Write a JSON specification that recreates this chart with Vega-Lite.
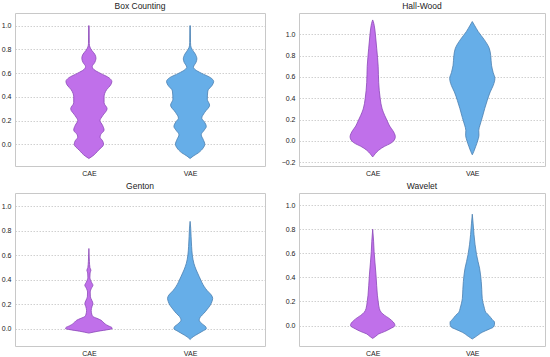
{
  "$schema": "https://vega.github.io/schema/vega-lite/v6.json",
  "padding": {"left": 0, "top": 1, "right": 4, "bottom": 0},
  "background": "white",
  "columns": 2,
  "spacing": {"row": 4, "column": 14},
  "config": {
    "font": "Liberation Sans",
    "view": {"stroke": "#c8c8c8", "strokeWidth": 1},
    "title": {"fontSize": 8.5, "fontWeight": "normal", "color": "#222", "offset": 3, "font": "Liberation Sans"},
    "axis": {"labelFontSize": 7, "labelColor": "#222", "domain": false, "ticks": false, "labelPadding": 4, "title": null, "gridColor": "#c4c4c4", "gridDash": [1.5, 1.5], "gridWidth": 0.8},
    "axisX": {"labelPadding": 3},
    "area": {"strokeWidth": 0.8, "fillOpacity": 1}
  },
  "datasets": {
    "violins": [
      {"panel": "Box Counting", "group": "CAE", "v": -0.12, "d": 0},
      {"panel": "Box Counting", "group": "CAE", "v": -0.10, "d": 0.035},
      {"panel": "Box Counting", "group": "CAE", "v": -0.05, "d": 0.095},
      {"panel": "Box Counting", "group": "CAE", "v": 0.0, "d": 0.145},
      {"panel": "Box Counting", "group": "CAE", "v": 0.03, "d": 0.135},
      {"panel": "Box Counting", "group": "CAE", "v": 0.06, "d": 0.11},
      {"panel": "Box Counting", "group": "CAE", "v": 0.08, "d": 0.115},
      {"panel": "Box Counting", "group": "CAE", "v": 0.12, "d": 0.15},
      {"panel": "Box Counting", "group": "CAE", "v": 0.16, "d": 0.135},
      {"panel": "Box Counting", "group": "CAE", "v": 0.20, "d": 0.11},
      {"panel": "Box Counting", "group": "CAE", "v": 0.24, "d": 0.135},
      {"panel": "Box Counting", "group": "CAE", "v": 0.30, "d": 0.18},
      {"panel": "Box Counting", "group": "CAE", "v": 0.35, "d": 0.15},
      {"panel": "Box Counting", "group": "CAE", "v": 0.40, "d": 0.15},
      {"panel": "Box Counting", "group": "CAE", "v": 0.46, "d": 0.175},
      {"panel": "Box Counting", "group": "CAE", "v": 0.50, "d": 0.215},
      {"panel": "Box Counting", "group": "CAE", "v": 0.53, "d": 0.227},
      {"panel": "Box Counting", "group": "CAE", "v": 0.56, "d": 0.2},
      {"panel": "Box Counting", "group": "CAE", "v": 0.60, "d": 0.11},
      {"panel": "Box Counting", "group": "CAE", "v": 0.63, "d": 0.05},
      {"panel": "Box Counting", "group": "CAE", "v": 0.655, "d": 0.033},
      {"panel": "Box Counting", "group": "CAE", "v": 0.69, "d": 0.058},
      {"panel": "Box Counting", "group": "CAE", "v": 0.725, "d": 0.07},
      {"panel": "Box Counting", "group": "CAE", "v": 0.76, "d": 0.058},
      {"panel": "Box Counting", "group": "CAE", "v": 0.79, "d": 0.03},
      {"panel": "Box Counting", "group": "CAE", "v": 0.82, "d": 0.01},
      {"panel": "Box Counting", "group": "CAE", "v": 0.85, "d": 0.004},
      {"panel": "Box Counting", "group": "CAE", "v": 1.0, "d": 0.0025},
      {"panel": "Box Counting", "group": "VAE", "v": -0.12, "d": 0},
      {"panel": "Box Counting", "group": "VAE", "v": -0.10, "d": 0.03},
      {"panel": "Box Counting", "group": "VAE", "v": -0.07, "d": 0.085},
      {"panel": "Box Counting", "group": "VAE", "v": -0.03, "d": 0.13},
      {"panel": "Box Counting", "group": "VAE", "v": 0.0, "d": 0.145},
      {"panel": "Box Counting", "group": "VAE", "v": 0.04, "d": 0.13},
      {"panel": "Box Counting", "group": "VAE", "v": 0.08, "d": 0.11},
      {"panel": "Box Counting", "group": "VAE", "v": 0.12, "d": 0.14},
      {"panel": "Box Counting", "group": "VAE", "v": 0.15, "d": 0.16},
      {"panel": "Box Counting", "group": "VAE", "v": 0.19, "d": 0.14},
      {"panel": "Box Counting", "group": "VAE", "v": 0.22, "d": 0.115},
      {"panel": "Box Counting", "group": "VAE", "v": 0.27, "d": 0.145},
      {"panel": "Box Counting", "group": "VAE", "v": 0.33, "d": 0.193},
      {"panel": "Box Counting", "group": "VAE", "v": 0.38, "d": 0.17},
      {"panel": "Box Counting", "group": "VAE", "v": 0.45, "d": 0.175},
      {"panel": "Box Counting", "group": "VAE", "v": 0.50, "d": 0.22},
      {"panel": "Box Counting", "group": "VAE", "v": 0.53, "d": 0.233},
      {"panel": "Box Counting", "group": "VAE", "v": 0.56, "d": 0.205},
      {"panel": "Box Counting", "group": "VAE", "v": 0.60, "d": 0.11},
      {"panel": "Box Counting", "group": "VAE", "v": 0.63, "d": 0.05},
      {"panel": "Box Counting", "group": "VAE", "v": 0.65, "d": 0.033},
      {"panel": "Box Counting", "group": "VAE", "v": 0.69, "d": 0.058},
      {"panel": "Box Counting", "group": "VAE", "v": 0.72, "d": 0.067},
      {"panel": "Box Counting", "group": "VAE", "v": 0.76, "d": 0.052},
      {"panel": "Box Counting", "group": "VAE", "v": 0.80, "d": 0.02},
      {"panel": "Box Counting", "group": "VAE", "v": 0.83, "d": 0.006},
      {"panel": "Box Counting", "group": "VAE", "v": 0.86, "d": 0.004},
      {"panel": "Box Counting", "group": "VAE", "v": 1.0, "d": 0.0025},
      {"panel": "Hall-Wood", "group": "CAE", "v": -0.15, "d": 0},
      {"panel": "Hall-Wood", "group": "CAE", "v": -0.12, "d": 0.025},
      {"panel": "Hall-Wood", "group": "CAE", "v": -0.087, "d": 0.06},
      {"panel": "Hall-Wood", "group": "CAE", "v": -0.05, "d": 0.12},
      {"panel": "Hall-Wood", "group": "CAE", "v": -0.025, "d": 0.175},
      {"panel": "Hall-Wood", "group": "CAE", "v": 0.0, "d": 0.21},
      {"panel": "Hall-Wood", "group": "CAE", "v": 0.04, "d": 0.227},
      {"panel": "Hall-Wood", "group": "CAE", "v": 0.07, "d": 0.218},
      {"panel": "Hall-Wood", "group": "CAE", "v": 0.10, "d": 0.20},
      {"panel": "Hall-Wood", "group": "CAE", "v": 0.14, "d": 0.17},
      {"panel": "Hall-Wood", "group": "CAE", "v": 0.18, "d": 0.15},
      {"panel": "Hall-Wood", "group": "CAE", "v": 0.24, "d": 0.12},
      {"panel": "Hall-Wood", "group": "CAE", "v": 0.30, "d": 0.095},
      {"panel": "Hall-Wood", "group": "CAE", "v": 0.40, "d": 0.075},
      {"panel": "Hall-Wood", "group": "CAE", "v": 0.55, "d": 0.06},
      {"panel": "Hall-Wood", "group": "CAE", "v": 0.70, "d": 0.055},
      {"panel": "Hall-Wood", "group": "CAE", "v": 0.87, "d": 0.04},
      {"panel": "Hall-Wood", "group": "CAE", "v": 1.0, "d": 0.027},
      {"panel": "Hall-Wood", "group": "CAE", "v": 1.08, "d": 0.016},
      {"panel": "Hall-Wood", "group": "CAE", "v": 1.12, "d": 0.006},
      {"panel": "Hall-Wood", "group": "CAE", "v": 1.135, "d": 0},
      {"panel": "Hall-Wood", "group": "VAE", "v": -0.13, "d": 0},
      {"panel": "Hall-Wood", "group": "VAE", "v": -0.10, "d": 0.015},
      {"panel": "Hall-Wood", "group": "VAE", "v": -0.05, "d": 0.035},
      {"panel": "Hall-Wood", "group": "VAE", "v": -0.025, "d": 0.045},
      {"panel": "Hall-Wood", "group": "VAE", "v": 0.02, "d": 0.06},
      {"panel": "Hall-Wood", "group": "VAE", "v": 0.054, "d": 0.067},
      {"panel": "Hall-Wood", "group": "VAE", "v": 0.10, "d": 0.065},
      {"panel": "Hall-Wood", "group": "VAE", "v": 0.148, "d": 0.077},
      {"panel": "Hall-Wood", "group": "VAE", "v": 0.22, "d": 0.10},
      {"panel": "Hall-Wood", "group": "VAE", "v": 0.305, "d": 0.125},
      {"panel": "Hall-Wood", "group": "VAE", "v": 0.38, "d": 0.15},
      {"panel": "Hall-Wood", "group": "VAE", "v": 0.46, "d": 0.18},
      {"panel": "Hall-Wood", "group": "VAE", "v": 0.52, "d": 0.21},
      {"panel": "Hall-Wood", "group": "VAE", "v": 0.587, "d": 0.227},
      {"panel": "Hall-Wood", "group": "VAE", "v": 0.64, "d": 0.21},
      {"panel": "Hall-Wood", "group": "VAE", "v": 0.71, "d": 0.193},
      {"panel": "Hall-Wood", "group": "VAE", "v": 0.80, "d": 0.185},
      {"panel": "Hall-Wood", "group": "VAE", "v": 0.87, "d": 0.17},
      {"panel": "Hall-Wood", "group": "VAE", "v": 0.95, "d": 0.12},
      {"panel": "Hall-Wood", "group": "VAE", "v": 1.025, "d": 0.06},
      {"panel": "Hall-Wood", "group": "VAE", "v": 1.08, "d": 0.025},
      {"panel": "Hall-Wood", "group": "VAE", "v": 1.12, "d": 0},
      {"panel": "Genton", "group": "CAE", "v": -0.035, "d": 0},
      {"panel": "Genton", "group": "CAE", "v": -0.02, "d": 0.09},
      {"panel": "Genton", "group": "CAE", "v": -0.005, "d": 0.20},
      {"panel": "Genton", "group": "CAE", "v": 0.0, "d": 0.23},
      {"panel": "Genton", "group": "CAE", "v": 0.01, "d": 0.227},
      {"panel": "Genton", "group": "CAE", "v": 0.025, "d": 0.19},
      {"panel": "Genton", "group": "CAE", "v": 0.04, "d": 0.16},
      {"panel": "Genton", "group": "CAE", "v": 0.055, "d": 0.14},
      {"panel": "Genton", "group": "CAE", "v": 0.07, "d": 0.12},
      {"panel": "Genton", "group": "CAE", "v": 0.085, "d": 0.08},
      {"panel": "Genton", "group": "CAE", "v": 0.10, "d": 0.04},
      {"panel": "Genton", "group": "CAE", "v": 0.12, "d": 0.028},
      {"panel": "Genton", "group": "CAE", "v": 0.15, "d": 0.023},
      {"panel": "Genton", "group": "CAE", "v": 0.18, "d": 0.03},
      {"panel": "Genton", "group": "CAE", "v": 0.205, "d": 0.04},
      {"panel": "Genton", "group": "CAE", "v": 0.23, "d": 0.03},
      {"panel": "Genton", "group": "CAE", "v": 0.26, "d": 0.015},
      {"panel": "Genton", "group": "CAE", "v": 0.30, "d": 0.013},
      {"panel": "Genton", "group": "CAE", "v": 0.33, "d": 0.025},
      {"panel": "Genton", "group": "CAE", "v": 0.355, "d": 0.04},
      {"panel": "Genton", "group": "CAE", "v": 0.38, "d": 0.025},
      {"panel": "Genton", "group": "CAE", "v": 0.42, "d": 0.01},
      {"panel": "Genton", "group": "CAE", "v": 0.455, "d": 0.012},
      {"panel": "Genton", "group": "CAE", "v": 0.477, "d": 0.02},
      {"panel": "Genton", "group": "CAE", "v": 0.50, "d": 0.01},
      {"panel": "Genton", "group": "CAE", "v": 0.55, "d": 0.005},
      {"panel": "Genton", "group": "CAE", "v": 0.654, "d": 0},
      {"panel": "Genton", "group": "VAE", "v": -0.087, "d": 0},
      {"panel": "Genton", "group": "VAE", "v": -0.065, "d": 0.03},
      {"panel": "Genton", "group": "VAE", "v": -0.04, "d": 0.08},
      {"panel": "Genton", "group": "VAE", "v": -0.016, "d": 0.13},
      {"panel": "Genton", "group": "VAE", "v": 0.0, "d": 0.16},
      {"panel": "Genton", "group": "VAE", "v": 0.016, "d": 0.155},
      {"panel": "Genton", "group": "VAE", "v": 0.04, "d": 0.12},
      {"panel": "Genton", "group": "VAE", "v": 0.07, "d": 0.09},
      {"panel": "Genton", "group": "VAE", "v": 0.10, "d": 0.105},
      {"panel": "Genton", "group": "VAE", "v": 0.125, "d": 0.135},
      {"panel": "Genton", "group": "VAE", "v": 0.16, "d": 0.17},
      {"panel": "Genton", "group": "VAE", "v": 0.193, "d": 0.20},
      {"panel": "Genton", "group": "VAE", "v": 0.22, "d": 0.215},
      {"panel": "Genton", "group": "VAE", "v": 0.248, "d": 0.223},
      {"panel": "Genton", "group": "VAE", "v": 0.275, "d": 0.21},
      {"panel": "Genton", "group": "VAE", "v": 0.31, "d": 0.17},
      {"panel": "Genton", "group": "VAE", "v": 0.343, "d": 0.14},
      {"panel": "Genton", "group": "VAE", "v": 0.38, "d": 0.115},
      {"panel": "Genton", "group": "VAE", "v": 0.425, "d": 0.09},
      {"panel": "Genton", "group": "VAE", "v": 0.48, "d": 0.06},
      {"panel": "Genton", "group": "VAE", "v": 0.534, "d": 0.037},
      {"panel": "Genton", "group": "VAE", "v": 0.60, "d": 0.022},
      {"panel": "Genton", "group": "VAE", "v": 0.67, "d": 0.015},
      {"panel": "Genton", "group": "VAE", "v": 0.75, "d": 0.01},
      {"panel": "Genton", "group": "VAE", "v": 0.82, "d": 0.006},
      {"panel": "Genton", "group": "VAE", "v": 0.875, "d": 0},
      {"panel": "Wavelet", "group": "CAE", "v": -0.107, "d": 0},
      {"panel": "Wavelet", "group": "CAE", "v": -0.09, "d": 0.03},
      {"panel": "Wavelet", "group": "CAE", "v": -0.07, "d": 0.06},
      {"panel": "Wavelet", "group": "CAE", "v": -0.05, "d": 0.12},
      {"panel": "Wavelet", "group": "CAE", "v": -0.028, "d": 0.173},
      {"panel": "Wavelet", "group": "CAE", "v": 0.0, "d": 0.223},
      {"panel": "Wavelet", "group": "CAE", "v": 0.02, "d": 0.215},
      {"panel": "Wavelet", "group": "CAE", "v": 0.042, "d": 0.19},
      {"panel": "Wavelet", "group": "CAE", "v": 0.065, "d": 0.155},
      {"panel": "Wavelet", "group": "CAE", "v": 0.084, "d": 0.12},
      {"panel": "Wavelet", "group": "CAE", "v": 0.11, "d": 0.085},
      {"panel": "Wavelet", "group": "CAE", "v": 0.14, "d": 0.067},
      {"panel": "Wavelet", "group": "CAE", "v": 0.20, "d": 0.055},
      {"panel": "Wavelet", "group": "CAE", "v": 0.252, "d": 0.047},
      {"panel": "Wavelet", "group": "CAE", "v": 0.33, "d": 0.04},
      {"panel": "Wavelet", "group": "CAE", "v": 0.42, "d": 0.033},
      {"panel": "Wavelet", "group": "CAE", "v": 0.52, "d": 0.023},
      {"panel": "Wavelet", "group": "CAE", "v": 0.616, "d": 0.014},
      {"panel": "Wavelet", "group": "CAE", "v": 0.70, "d": 0.009},
      {"panel": "Wavelet", "group": "CAE", "v": 0.80, "d": 0},
      {"panel": "Wavelet", "group": "VAE", "v": -0.112, "d": 0},
      {"panel": "Wavelet", "group": "VAE", "v": -0.09, "d": 0.04},
      {"panel": "Wavelet", "group": "VAE", "v": -0.056, "d": 0.10},
      {"panel": "Wavelet", "group": "VAE", "v": -0.03, "d": 0.17},
      {"panel": "Wavelet", "group": "VAE", "v": -0.014, "d": 0.21},
      {"panel": "Wavelet", "group": "VAE", "v": 0.01, "d": 0.223},
      {"panel": "Wavelet", "group": "VAE", "v": 0.028, "d": 0.223},
      {"panel": "Wavelet", "group": "VAE", "v": 0.05, "d": 0.20},
      {"panel": "Wavelet", "group": "VAE", "v": 0.084, "d": 0.167},
      {"panel": "Wavelet", "group": "VAE", "v": 0.11, "d": 0.135},
      {"panel": "Wavelet", "group": "VAE", "v": 0.14, "d": 0.123},
      {"panel": "Wavelet", "group": "VAE", "v": 0.18, "d": 0.11},
      {"panel": "Wavelet", "group": "VAE", "v": 0.224, "d": 0.10},
      {"panel": "Wavelet", "group": "VAE", "v": 0.30, "d": 0.095},
      {"panel": "Wavelet", "group": "VAE", "v": 0.364, "d": 0.09},
      {"panel": "Wavelet", "group": "VAE", "v": 0.42, "d": 0.083},
      {"panel": "Wavelet", "group": "VAE", "v": 0.476, "d": 0.073},
      {"panel": "Wavelet", "group": "VAE", "v": 0.53, "d": 0.058},
      {"panel": "Wavelet", "group": "VAE", "v": 0.588, "d": 0.043},
      {"panel": "Wavelet", "group": "VAE", "v": 0.67, "d": 0.028},
      {"panel": "Wavelet", "group": "VAE", "v": 0.756, "d": 0.017},
      {"panel": "Wavelet", "group": "VAE", "v": 0.85, "d": 0.008},
      {"panel": "Wavelet", "group": "VAE", "v": 0.924, "d": 0}
    ]
  },
  "concat": [
    {
      "title": "Box Counting",
      "width": 250, "height": 153,
      "data": {"name": "violins"},
      "transform": [
        {"filter": "datum.panel == 'Box Counting'"},
        {"calculate": "(datum.group == 'CAE' ? 1 : 2) - datum.d", "as": "lo"},
        {"calculate": "(datum.group == 'CAE' ? 1 : 2) + datum.d", "as": "hi"}
      ],
      "mark": {"type": "area", "orient": "horizontal", "interpolate": "monotone"},
      "encoding": {
        "y": {"field": "v", "type": "quantitative", "scale": {"domain": [-0.183, 1.107], "nice": false, "zero": false}, "axis": {"values": [0, 0.2, 0.4, 0.6, 0.8, 1.0], "format": ".1f"}},
        "x": {"field": "lo", "type": "quantitative", "scale": {"domain": [0.27, 2.74], "nice": false, "zero": false}, "axis": {"values": [1, 2], "grid": false, "labelExpr": "datum.value == 1 ? 'CAE' : 'VAE'"}},
        "x2": {"field": "hi"},
        "fill": {"field": "group", "type": "nominal", "scale": {"domain": ["CAE", "VAE"], "range": ["#c070ea", "#66aee8"]}, "legend": null},
        "stroke": {"field": "group", "type": "nominal", "scale": {"domain": ["CAE", "VAE"], "range": ["#8a48b8", "#4a7fb0"]}, "legend": null}
      }
    },
    {
      "title": "Hall-Wood",
      "width": 246, "height": 153,
      "data": {"name": "violins"},
      "transform": [
        {"filter": "datum.panel == 'Hall-Wood'"},
        {"calculate": "(datum.group == 'CAE' ? 1 : 2) - datum.d", "as": "lo"},
        {"calculate": "(datum.group == 'CAE' ? 1 : 2) + datum.d", "as": "hi"}
      ],
      "mark": {"type": "area", "orient": "horizontal", "interpolate": "monotone"},
      "encoding": {
        "y": {"field": "v", "type": "quantitative", "scale": {"domain": [-0.235, 1.2], "nice": false, "zero": false}, "axis": {"values": [-0.2, 0, 0.2, 0.4, 0.6, 0.8, 1.0], "format": ".1f"}},
        "x": {"field": "lo", "type": "quantitative", "scale": {"domain": [0.26, 2.73], "nice": false, "zero": false}, "axis": {"values": [1, 2], "grid": false, "labelExpr": "datum.value == 1 ? 'CAE' : 'VAE'"}},
        "x2": {"field": "hi"},
        "fill": {"field": "group", "type": "nominal", "scale": {"domain": ["CAE", "VAE"], "range": ["#c070ea", "#66aee8"]}, "legend": null},
        "stroke": {"field": "group", "type": "nominal", "scale": {"domain": ["CAE", "VAE"], "range": ["#8a48b8", "#4a7fb0"]}, "legend": null}
      }
    },
    {
      "title": "Genton",
      "width": 250, "height": 153,
      "data": {"name": "violins"},
      "transform": [
        {"filter": "datum.panel == 'Genton'"},
        {"calculate": "(datum.group == 'CAE' ? 1 : 2) - datum.d", "as": "lo"},
        {"calculate": "(datum.group == 'CAE' ? 1 : 2) + datum.d", "as": "hi"}
      ],
      "mark": {"type": "area", "orient": "horizontal", "interpolate": "monotone"},
      "encoding": {
        "y": {"field": "v", "type": "quantitative", "scale": {"domain": [-0.14, 1.106], "nice": false, "zero": false}, "axis": {"values": [0, 0.2, 0.4, 0.6, 0.8, 1.0], "format": ".1f"}},
        "x": {"field": "lo", "type": "quantitative", "scale": {"domain": [0.27, 2.74], "nice": false, "zero": false}, "axis": {"values": [1, 2], "grid": false, "labelExpr": "datum.value == 1 ? 'CAE' : 'VAE'"}},
        "x2": {"field": "hi"},
        "fill": {"field": "group", "type": "nominal", "scale": {"domain": ["CAE", "VAE"], "range": ["#c070ea", "#66aee8"]}, "legend": null},
        "stroke": {"field": "group", "type": "nominal", "scale": {"domain": ["CAE", "VAE"], "range": ["#8a48b8", "#4a7fb0"]}, "legend": null}
      }
    },
    {
      "title": "Wavelet",
      "width": 246, "height": 153,
      "data": {"name": "violins"},
      "transform": [
        {"filter": "datum.panel == 'Wavelet'"},
        {"calculate": "(datum.group == 'CAE' ? 1 : 2) - datum.d", "as": "lo"},
        {"calculate": "(datum.group == 'CAE' ? 1 : 2) + datum.d", "as": "hi"}
      ],
      "mark": {"type": "area", "orient": "horizontal", "interpolate": "monotone"},
      "encoding": {
        "y": {"field": "v", "type": "quantitative", "scale": {"domain": [-0.17, 1.1], "nice": false, "zero": false}, "axis": {"values": [0, 0.2, 0.4, 0.6, 0.8, 1.0], "format": ".1f"}},
        "x": {"field": "lo", "type": "quantitative", "scale": {"domain": [0.26, 2.73], "nice": false, "zero": false}, "axis": {"values": [1, 2], "grid": false, "labelExpr": "datum.value == 1 ? 'CAE' : 'VAE'"}},
        "x2": {"field": "hi"},
        "fill": {"field": "group", "type": "nominal", "scale": {"domain": ["CAE", "VAE"], "range": ["#c070ea", "#66aee8"]}, "legend": null},
        "stroke": {"field": "group", "type": "nominal", "scale": {"domain": ["CAE", "VAE"], "range": ["#8a48b8", "#4a7fb0"]}, "legend": null}
      }
    }
  ]
}
